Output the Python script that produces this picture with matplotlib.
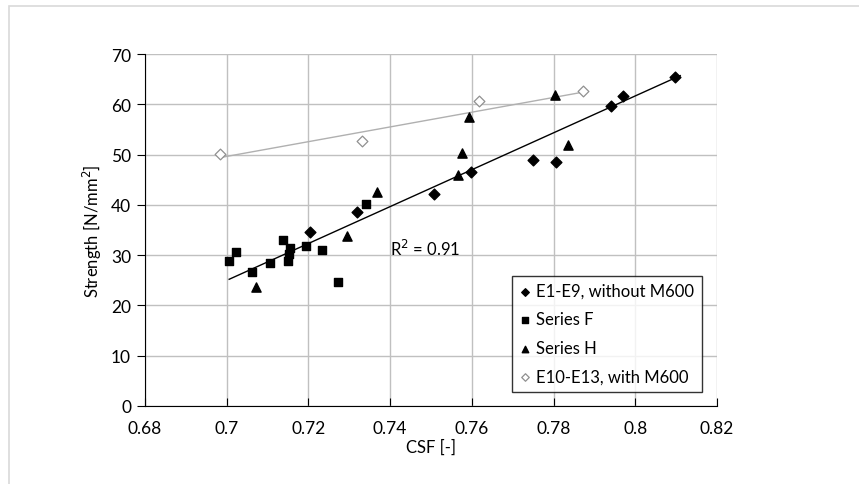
import numpy as np
import matplotlib.pyplot as plt
from matplotlib.patches import Rectangle

# E1-E9, without M600 (filled diamonds)
e_csf = [0.7204, 0.7320, 0.7507, 0.7597, 0.7750, 0.7806, 0.7940, 0.7969, 0.8098]
e_str = [34.7, 38.6, 42.1, 46.6, 49.0, 48.6, 59.6, 61.7, 65.4]

# Series F (squares)
f_csf = [0.7006, 0.7022, 0.7063, 0.7105, 0.7137, 0.7155, 0.7152, 0.7149, 0.7194, 0.7234, 0.7273, 0.7340]
f_str = [28.9, 30.6, 26.7, 28.4, 33.1, 31.5, 30.3, 28.9, 31.8, 31.0, 24.6, 40.2]

# Series H (triangles)
h_csf = [0.7072, 0.7294, 0.7367, 0.7565, 0.7575, 0.7594, 0.7804, 0.7836]
h_str = [23.6, 33.9, 42.5, 46.0, 50.3, 57.5, 61.8, 52.0]

# E10-E13, with M600 (open diamonds)
m_csf = [0.6984, 0.7330, 0.7618, 0.7871]
m_str = [50.1, 52.7, 60.6, 62.6]

# trend lines
trend_black_x = [0.7006, 0.8110]
trend_black_y = [25.2, 65.7]
trend_gray_x = [0.6984, 0.7871]
trend_gray_y = [49.4, 62.4]

x_ticks = [0.68, 0.70, 0.72, 0.74, 0.76, 0.78, 0.80, 0.82]
x_labels = ['0.68', '0.7', '0.72', '0.74', '0.76', '0.78', '0.8', '0.82']
y_ticks = [0, 10, 20, 30, 40, 50, 60, 70]

plt.rcParams['font.family'] = ['Lato', 'DejaVu Sans']

fig = plt.figure(figsize=(8.59, 4.85), dpi=100)
fig.patches.append(Rectangle((9 / 859, -0.1), 1.2, 1 - 7 / 485 + 0.1,
                             transform=fig.transFigure, fill=False,
                             edgecolor='#d9d9d9', linewidth=1.2))
ax = fig.add_axes([145 / 859, 1 - 407 / 485, (717 - 145) / 859, (407 - 55) / 485])

ax.plot(trend_gray_x, trend_gray_y, color='#b0b0b0', linewidth=1.0, zorder=2)
ax.plot(trend_black_x, trend_black_y, color='black', linewidth=1.0, zorder=2)

ax.scatter(e_csf, e_str, marker='D', s=30, color='black', label='E1-E9, without M600', zorder=3)
ax.scatter(f_csf, f_str, marker='s', s=36, color='black', label='Series F', zorder=3)
ax.scatter(h_csf, h_str, marker='^', s=44, color='black', label='Series H', zorder=3)
ax.scatter(m_csf, m_str, marker='D', s=30, facecolor='white', edgecolor='#909090',
           linewidth=0.9, label='E10-E13, with M600', zorder=3)

ax.set_xlim(0.68, 0.82)
ax.set_ylim(0, 70)
ax.set_xticks(x_ticks)
ax.set_xticklabels(x_labels)
ax.set_yticks(y_ticks)
ax.grid(True, color='#c0c0c0', linewidth=1.0)
ax.set_axisbelow(True)
for s in ['top', 'right']:
    ax.spines[s].set_visible(False)
ax.spines['left'].set_color('black')
ax.spines['bottom'].set_color('black')
ax.tick_params(axis='x', direction='in', length=6, labelsize=12.5, pad=10, color='black')
ax.tick_params(axis='y', direction='out', length=6, labelsize=12.5, pad=4, color='black')

ax.set_xlabel('CSF [-]', fontsize=12, labelpad=2)
ax.set_ylabel('Strength [N/mm$^2$]', fontsize=12, labelpad=5)

ax.text(0.7400, 31.5, 'R$^2$ = 0.91', fontsize=12, va='center', ha='left')

leg = ax.legend(loc='lower right', bbox_to_anchor=(702 / 859, 1 - 393 / 485),
                bbox_transform=fig.transFigure, fontsize=12, frameon=True,
                fancybox=False, edgecolor='black', handlelength=0.6,
                handletextpad=0.4, markerscale=0.7, borderpad=0.45,
                labelspacing=0.75, borderaxespad=0)
leg.get_frame().set_linewidth(1.0)

fig.savefig('out.png', dpi=100)
